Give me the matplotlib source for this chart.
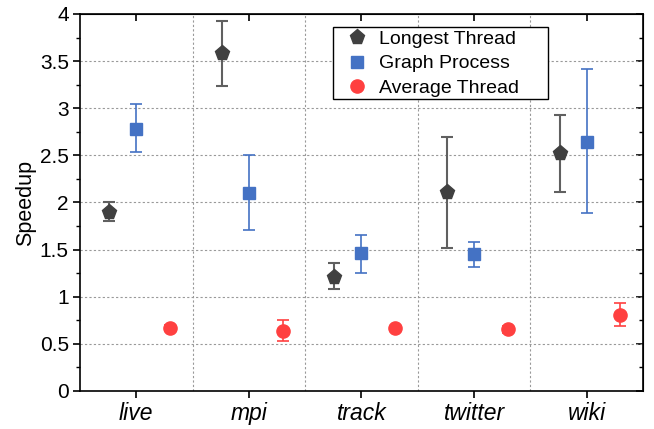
import numpy as np
import matplotlib.pyplot as plt
from matplotlib.ticker import MultipleLocator
from matplotlib.lines import Line2D
from matplotlib.patches import Rectangle

plt.rcParams['font.family'] = ['Liberation Sans', 'DejaVu Sans']

# data
categories = ['live', 'mpi', 'track', 'twitter', 'wiki']

longest = [1.90, 3.59, 1.21, 2.11, 2.52]
longest_lo = [1.80, 3.24, 1.08, 1.52, 2.11]
longest_hi = [2.00, 3.93, 1.36, 2.69, 2.93]

graph = [2.78, 2.10, 1.46, 1.45, 2.64]
graph_lo = [2.54, 1.71, 1.255, 1.32, 1.89]
graph_hi = [3.05, 2.50, 1.66, 1.58, 3.42]

average = [0.67, 0.64, 0.665, 0.655, 0.81]
average_lo = [0.64, 0.53, 0.65, 0.62, 0.69]
average_hi = [0.70, 0.75, 0.68, 0.69, 0.93]

c_long = '#404040'
c_graph = '#4472C4'
c_avg = '#FF4040'

fig = plt.figure(figsize=(6.54, 4.29), dpi=100)
ax = fig.add_axes([0.1223, 0.0886, 0.8609, 0.8788])

x = np.arange(1, len(categories) + 1)

def err(v, lo, hi):
    v = np.array(v)
    return [v - np.array(lo), np.array(hi) - v]

ax.errorbar(x - 0.24, longest, yerr=err(longest, longest_lo, longest_hi),
            fmt='p', color=c_long, ecolor='#606060', markersize=11,
            elinewidth=1.5, capsize=4.5, capthick=1.5, zorder=3)
ax.errorbar(x, graph, yerr=err(graph, graph_lo, graph_hi),
            fmt='s', color=c_graph, ecolor=c_graph, markersize=9,
            elinewidth=1.2, capsize=4.5, capthick=1.2, zorder=3)
ax.errorbar(x + 0.3, average, yerr=err(average, average_lo, average_hi),
            fmt='o', color=c_avg, ecolor=c_avg, markersize=9.5,
            elinewidth=1.2, capsize=4.5, capthick=1.2, zorder=3)

ax.set_xlim(0.5, 5.5)
ax.set_ylim(0, 4)
ax.set_xticks(x)
ax.set_xticklabels(categories, fontsize=16.5, style='italic')
ax.set_yticks(np.arange(0, 4.01, 0.5))
ax.set_yticklabels(['0', '0.5', '1', '1.5', '2', '2.5', '3', '3.5', '4'], fontsize=15)
ax.yaxis.set_minor_locator(MultipleLocator(0.25))
ax.set_ylabel('Speedup', fontsize=15.5, labelpad=3)

# grid: horizontal at major y, vertical between categories
for yv in np.arange(0.5, 4.0, 0.5):
    ax.axhline(yv, color='#999999', linestyle=(0, (2, 2)), linewidth=0.8, zorder=1)
for xv in np.arange(1.5, 5.5, 1):
    ax.axvline(xv, color='#999999', linestyle=(0, (2, 2)), linewidth=0.8, zorder=1)

for s in ax.spines.values():
    s.set_linewidth(1.2)

ax.tick_params(axis='both', which='major', direction='out', length=5, width=1.2, pad=3)
ax.tick_params(axis='y', which='minor', direction='out', length=3, width=1)
# mirrored ticks inward
ax2 = ax.secondary_xaxis('top')
ax2.set_xticks(x)
ax2.set_xticklabels([])
ax2.tick_params(direction='in', length=5, width=1.2)
ax3 = ax.secondary_yaxis('right')
ax3.set_yticks(np.arange(0, 4.01, 0.5))
ax3.set_yticklabels([])
ax3.yaxis.set_minor_locator(MultipleLocator(0.25))
ax3.tick_params(which='major', direction='in', length=5, width=1.2)
ax3.tick_params(which='minor', direction='in', length=3, width=1)

# legend box drawn by hand (wider than the text)
ax.add_patch(Rectangle((0.449, 0.775), 0.382, 0.1905, transform=ax.transAxes,
                       facecolor='white', edgecolor='black', linewidth=1.0, zorder=4))
handles = [
    Line2D([], [], linestyle='none', marker='p', color=c_long, markersize=11),
    Line2D([], [], linestyle='none', marker='s', color=c_graph, markersize=9),
    Line2D([], [], linestyle='none', marker='o', color=c_avg, markersize=9.5),
]
labels = ['Longest Thread', 'Graph Process', 'Average Thread']
leg = ax.legend(handles, labels, loc='upper left', bbox_to_anchor=(0.4618, 0.962),
                borderaxespad=0, fontsize=14, frameon=False, handletextpad=0.3,
                labelspacing=0.36, borderpad=0.1, handlelength=1.6)
leg.set_zorder(5)

fig.savefig('out.png', dpi=100)
